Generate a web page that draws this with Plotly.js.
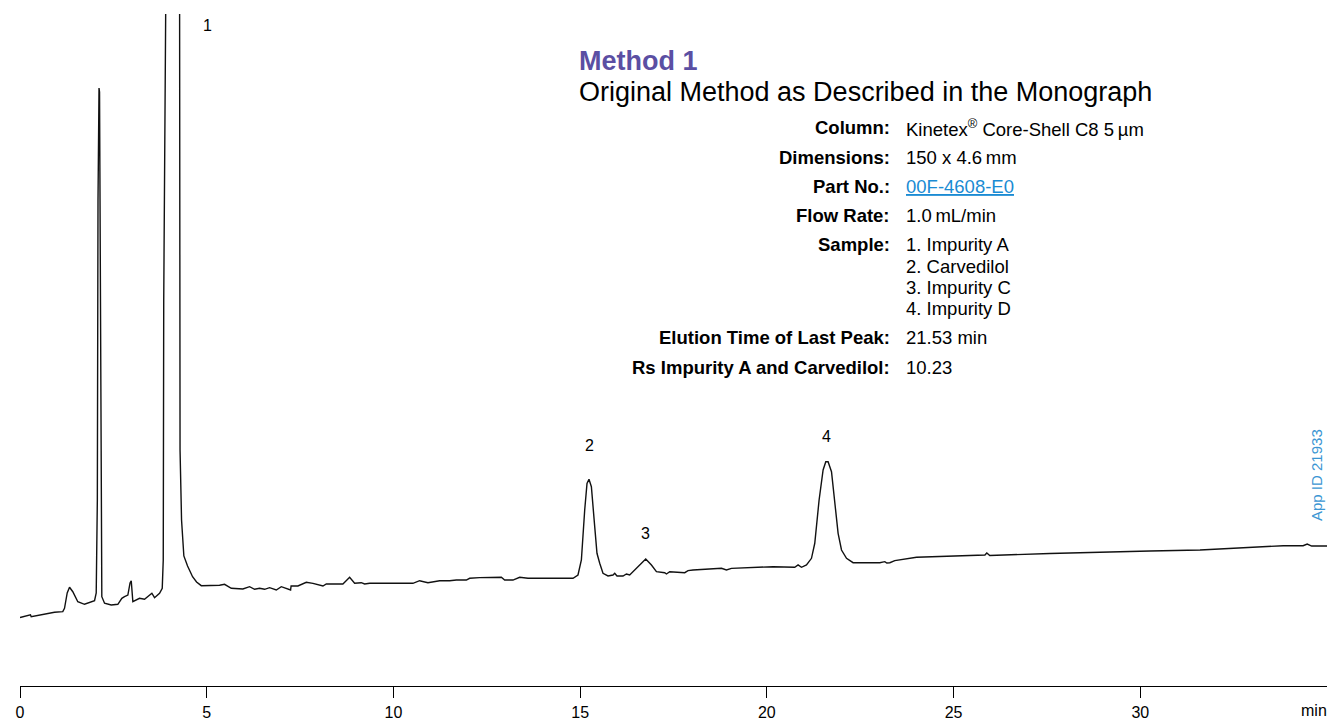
<!DOCTYPE html>
<html>
<head>
<meta charset="utf-8">
<script src="https://cdn.plot.ly/plotly-3.0.1.min.js"></script>
<style>
  html, body { margin: 0; padding: 0; background: #ffffff; }
  #chart { width: 1327px; height: 720px; }
</style>
</head>
<body>
<div id="chart"></div>
<script>
// Chromatogram trace: retention time (min) and detector signal (mAU)
const rtMin = [
  0.00, 0.28, 0.30, 0.924, 1.146, 1.192, 1.264, 1.326, 1.414, 1.548, 1.728, 1.996, 2.041,
  2.071, 2.089, 2.105, 2.116, 2.130, 2.148, 2.164, 2.191, 2.264, 2.443, 2.620, 2.727,
  2.799, 2.888, 2.947, 2.979, 3.022, 3.113, 3.201, 3.335, 3.469, 3.531, 3.603, 3.737,
  3.809, 3.836, 3.849, 3.857, 4.060, 4.267, 4.275, 4.286, 4.326, 4.388, 4.487, 4.621,
  4.728, 4.854, 5.344, 5.478, 5.658, 5.968, 6.148, 6.282, 6.416, 6.550, 6.684, 6.863,
  6.997, 7.246, 7.260, 7.442, 7.667, 7.844, 8.112, 8.203, 8.647, 8.827, 8.961, 9.140,
  9.229, 9.363, 10.522, 10.702, 10.924, 11.238, 11.506, 11.685, 11.953, 12.041, 12.309,
  12.890, 12.979, 13.201, 13.381, 13.603, 14.096, 14.809, 14.942, 15.033, 15.122, 15.184,
  15.237, 15.301, 15.390, 15.451, 15.524, 15.612, 15.746, 15.880, 15.926, 15.987, 16.148,
  16.239, 16.327, 16.550, 16.756, 16.909, 17.043, 17.265, 17.311, 17.399, 17.801, 17.889,
  18.023, 18.784, 18.918, 19.052, 20.166, 20.747, 20.836, 20.927, 21.061, 21.195, 21.283,
  21.399, 21.506, 21.578, 21.640, 21.731, 21.819, 21.908, 21.999, 22.133, 22.309, 23.025,
  23.159, 23.212, 23.293, 23.426, 24.008, 24.900, 25.840, 25.890, 25.970, 27.580, 28.920,
  30.260, 31.600, 33.830, 34.360, 34.470, 34.590, 35.000
];
const signalMau = [
  10.20, 10.60, 10.31, 10.97, 11.06, 11.56, 13.84, 14.69, 14.03, 12.54, 12.16, 12.69, 13.84,
  27.68, 72.30, 88.69, 88.99, 88.39, 64.88, 27.68, 13.29, 12.31, 12.05, 12.16, 13.05,
  13.29, 13.54, 15.33, 15.67, 12.54, 12.80, 13.05, 12.90, 13.54, 13.80, 13.14, 13.80,
  14.54, 18.75, 57.44, 140.0, 230.0, 140.0, 57.40, 35.10, 24.70, 19.35, 17.86, 16.26,
  15.48, 14.93, 14.99, 15.13, 14.54, 14.43, 14.78, 14.39, 14.54, 14.39, 14.63, 14.29,
  14.78, 14.29, 14.88, 14.88, 15.43, 15.28, 14.88, 15.18, 15.18, 16.18, 15.28, 15.37,
  15.18, 15.28, 15.28, 15.67, 15.37, 15.67, 15.67, 15.77, 15.77, 16.03, 16.12,
  16.18, 15.77, 15.77, 16.18, 16.03, 16.03, 16.03, 16.52, 18.75, 26.19, 30.16,
  30.76, 29.66, 23.71, 19.75, 18.26, 16.77, 16.37, 16.52, 16.77, 16.37, 16.37,
  16.67, 16.52, 17.75, 18.90, 18.01, 17.01, 16.86, 16.67, 17.01, 16.86, 17.16,
  17.26, 17.51, 17.26, 17.51, 17.75, 17.66, 18.01, 17.66, 18.01, 19.00, 21.24,
  27.68, 32.14, 33.38, 33.38, 31.89, 27.68, 22.72, 20.24, 19.00, 18.35, 18.35,
  18.50, 18.30, 18.35, 18.65, 19.15, 19.27, 19.49, 19.79, 19.42, 19.72, 19.94,
  20.09, 20.24, 20.88, 20.88, 21.13, 20.83, 20.83
];

// Numbered peaks and their retention times (min)
const peakIds = ['1', '2', '3', '4'];
const peakRt = [4.06, 15.24, 16.76, 21.60];

// Axis ticks (min)
const tickValues = [0, 5, 10, 15, 20, 25, 30];
const tickLabels = ['0', '5', '10', '15', '20', '25', '30'];

// Method conditions
const conditionLabels = ['Column:', 'Dimensions:', 'Part No.:', 'Flow Rate:', 'Sample:',
                         'Elution Time of Last Peak:', 'Rs Impurity A and Carvedilol:'];
const conditionValues = ['Kinetex<sup>®</sup> Core-Shell C8 5\u2009µm', '150 x 4.6\u2009mm',
                         '<u>00F-4608-E0</u>', '1.0\u2009mL/min', '1. Impurity A',
                         '21.53 min', '10.23'];
const sampleList = ['2. Carvedilol', '3. Impurity C', '4. Impurity D'];

const FONT = '"Liberation Sans", Arial, Helvetica, sans-serif';
const LINK = '#1a8bd3';

// Layout geometry of the plotting area in pixels
const L = 20, R = 0, T = 14, B = 34, W = 1327, H = 720;
const pw = W - L - R, ph = H - T - B;
const px = x => (x - L) / pw;           // page x -> paper x
const py = y => (H - B - y) / ph;       // page y -> paper y

const annotations = [];

// Peak numbers (peak 1 runs off scale, so its number sits near the top)
peakIds.forEach((id, i) => {
  if (i === 0) {
    annotations.push({ xref: 'paper', yref: 'paper', x: px(207), y: py(25),
      xanchor: 'center', yanchor: 'middle',
      text: id, showarrow: false, font: { family: FONT, size: 16, color: '#000' } });
    return;
  }
  // apex height from the trace near the retention time
  let apex = -Infinity;
  rtMin.forEach((t, k) => { if (Math.abs(t - peakRt[i]) < 0.3) apex = Math.max(apex, signalMau[k]); });
  const shift = i === 1 ? 34 : 25;
  annotations.push({ x: peakRt[i], y: apex, yshift: shift, xanchor: 'center', yanchor: 'middle',
    text: id, showarrow: false, font: { family: FONT, size: 16, color: '#000' } });
});

// Title block
annotations.push({ xref: 'paper', yref: 'paper', x: px(577), y: py(61), xanchor: 'left', yanchor: 'middle',
  text: '<b>Method 1</b>', showarrow: false, font: { family: FONT, size: 27, color: '#5b4fa3' } });
annotations.push({ xref: 'paper', yref: 'paper', x: px(577), y: py(92), xanchor: 'left', yanchor: 'middle',
  text: 'Original Method as Described in the Monograph', showarrow: false,
  font: { family: FONT, size: 27, color: '#000' } });

// Conditions table
const rowY = [128, 157, 186, 215, 244, 338, 367];
conditionLabels.forEach((lab, i) => {
  annotations.push({ xref: 'paper', yref: 'paper', x: px(892), y: py(rowY[i]), xanchor: 'right',
    yanchor: 'middle', text: '<b>' + lab + '</b>', showarrow: false,
    font: { family: FONT, size: 18.5, color: '#000' } });
  annotations.push({ xref: 'paper', yref: 'paper', x: px(904), y: py(rowY[i]), xanchor: 'left',
    yanchor: 'middle', text: conditionValues[i], showarrow: false,
    font: { family: FONT, size: 18.5, color: i === 2 ? LINK : '#000' } });
});
const sampleY = [266, 287, 308];
sampleList.forEach((s, i) => {
  annotations.push({ xref: 'paper', yref: 'paper', x: px(904), y: py(sampleY[i]), xanchor: 'left',
    yanchor: 'middle', text: s, showarrow: false, font: { family: FONT, size: 18.5, color: '#000' } });
});

// Axis unit and application id
annotations.push({ xref: 'paper', yref: 'paper', x: px(1299), y: py(710), xanchor: 'left', yanchor: 'middle',
  text: 'min', showarrow: false, font: { family: FONT, size: 16, color: '#000' } });
annotations.push({ xref: 'paper', yref: 'paper', x: px(1316), y: py(475), xanchor: 'center', yanchor: 'middle',
  text: 'App ID 21933', textangle: -90, showarrow: false, font: { family: FONT, size: 15, color: '#3a95d3' } });

const trace = {
  x: rtMin, y: signalMau, type: 'scatter', mode: 'lines',
  line: { color: '#111111', width: 1.4 }, hoverinfo: 'skip'
};

const layout = {
  width: W, height: H,
  margin: { l: L, r: R, t: T, b: B, pad: 0 },
  paper_bgcolor: '#ffffff', plot_bgcolor: '#ffffff',
  showlegend: false,
  xaxis: {
    range: [0, 35], tickvals: tickValues, ticktext: tickLabels,
    ticks: 'outside', ticklen: 11, tickwidth: 1, tickcolor: '#000',
    showline: true, linecolor: '#000', linewidth: 1.3,
    showgrid: false, zeroline: false,
    tickfont: { family: FONT, size: 16, color: '#000' }
  },
  yaxis: { range: [0, 100], visible: false, showgrid: false, zeroline: false },
  annotations: annotations
};

Plotly.newPlot('chart', [trace], layout, { displayModeBar: false, staticPlot: true });
</script>
</body>
</html>
